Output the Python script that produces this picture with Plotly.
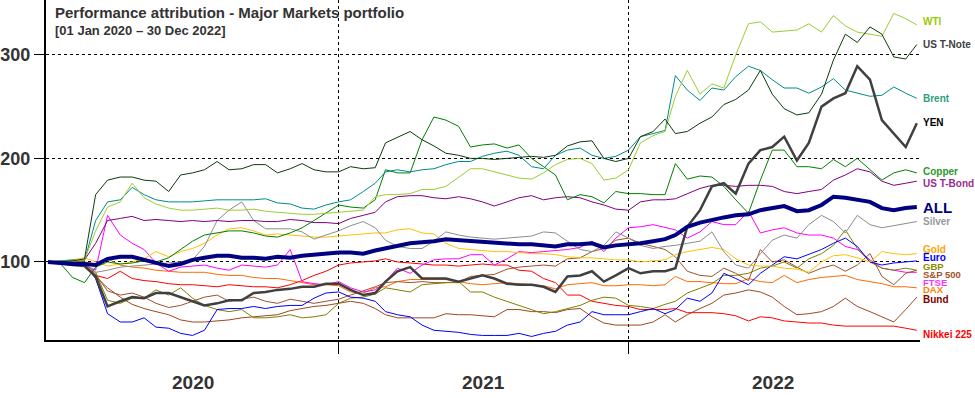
import plotly.graph_objects as go

# half-monthly observation dates (1st and 16th), last one 30 Dec 2022
dates = []
for yr in (2020, 2021, 2022):
    for mo in range(1, 13):
        dates.append(f"{yr}-{mo:02d}-01")
        dates.append(f"{yr}-{mo:02d}-16")
dates.append("2022-12-30")

wti = [100,100,101,102,130,153,158,176,162,156,152,150,150,151,152,150,150,151,149,148,147,146,146,147,148,
       149,150,163,165,165,166,170,170,173,182,190,190,187,184,181,180,186,194,199,200,195,179,181,189,
       215,222,226,260,285,262,272,268,300,330,332,322,323,324,330,322,338,328,322,320,318,340,335,329]
us_tnote = [100,100,101,103,165,179,182,182,179,178,168,184,186,189,197,189,190,194,194,186,190,195,189,187,187,
            192,190,191,215,220,226,218,212,205,203,200,200,199,200,201,202,201,203,212,216,217,200,197,200,
            221,226,238,224,226,234,240,252,257,266,285,262,248,242,244,262,295,320,312,327,320,298,296,310]
brent = [100,101,102,101,140,158,160,172,165,160,158,158,158,159,160,160,160,160,161,157,156,152,151,155,158,
         160,168,176,187,189,187,189,190,194,197,197,202,205,207,203,192,190,203,208,210,203,200,202,208,
         221,224,227,280,266,256,268,266,279,289,285,276,268,268,263,269,277,266,263,260,261,269,263,258]
yen = [100,99,97,96,86,57,62,66,65,70,70,66,62,58,60,63,63,70,71,73,74,76,76,79,79,
       73,68,70,81,91,95,84,84,84,81,84,87,84,79,78,78,76,71,86,87,91,81,87,94,
       89,91,91,94,134,150,173,176,166,195,208,211,221,198,215,250,258,263,289,276,237,224,211,234]
copper = [100,99,85,80,95,100,98,99,101,100,104,112,120,126,128,130,130,128,125,124,128,133,140,147,155,
          153,152,160,189,186,186,218,240,237,231,211,213,214,210,213,200,192,184,160,165,163,157,168,166,
          166,165,165,195,180,183,182,173,160,147,179,208,208,192,192,190,199,192,200,189,179,186,189,186]
us_tbond = [100,100,101,102,118,140,142,144,140,141,140,139,140,139,140,139,140,140,139,139,141,140,138,138,137,
            142,145,148,158,163,164,164,162,161,163,161,158,154,158,162,164,160,162,163,162,158,155,151,150,
            158,160,160,161,166,171,174,174,173,174,174,173,168,166,168,170,179,184,190,187,178,174,176,178]
all_portfolio = [100,99,98,98,97,103,105,105,102,99,96,98,102,104,106,106,104,104,103,105,104,106,107,108,109,
                 109,108,111,113,116,118,119,120,122,121,120,120,119,118,117,117,116,115,117,117,118,114,116,117,
                 118,120,122,126,134,138,141,143,145,146,150,152,154,149,150,155,163,162,160,158,152,150,152,153]
silver = [100,101,100,98,90,92,95,96,97,98,99,100,102,115,140,150,158,140,132,132,132,129,122,126,130,
          135,139,133,121,115,113,113,120,129,126,124,123,122,123,124,125,129,128,120,112,110,116,129,123,
          116,113,115,116,118,120,129,110,97,94,108,121,126,123,136,145,139,128,145,136,133,135,137,139]
gold = [100,101,102,104,100,96,98,100,103,110,105,110,113,118,126,132,133,130,126,127,126,125,124,124,125,
        126,127,128,128,131,132,128,127,118,113,112,111,110,110,109,108,108,107,105,104,104,103,102,102,
        100,101,102,107,110,112,114,112,103,97,96,96,94,93,90,100,106,107,104,100,110,108,107,108]
euro = [100,100,99,97,84,50,42,42,46,37,36,31,29,34,54,55,55,57,55,57,58,58,65,70,71,
        66,65,62,52,49,47,39,34,33,32,30,29,29,29,31,28,31,33,39,42,52,49,49,49,
        52,55,50,54,65,62,70,89,84,78,89,97,105,103,107,112,118,123,115,100,97,99,100,101]
gbp = [100,100,99,98,90,63,60,65,65,73,68,75,65,58,54,52,54,46,46,47,49,46,47,49,60,
       65,66,69,75,73,71,78,79,80,81,71,71,66,62,58,54,50,52,55,58,63,66,65,58,
       57,55,59,62,70,75,79,87,87,89,94,96,100,94,103,108,116,131,113,100,94,92,94,92]
sp500 = [100,100,101,100,88,72,68,70,66,60,56,58,62,66,68,62,64,66,62,60,64,62,60,62,64,
         68,72,76,80,81,80,81,80,80,80,86,87,88,93,95,96,97,96,103,104,110,113,121,123,
         118,115,112,105,91,87,86,94,89,82,112,100,102,95,89,94,97,91,97,108,86,78,89,92]
ftse = [100,100,100,97,92,145,126,118,112,99,91,95,96,97,94,92,97,96,95,97,112,81,79,78,81,
        75,71,73,81,94,89,97,102,103,103,107,107,97,103,110,109,110,111,112,114,120,110,123,133,
        134,136,133,131,123,129,139,136,136,149,128,131,133,128,126,126,123,115,112,102,94,92,90,90]
dax = [100,100,101,100,98,103,97,95,94,92,91,90,90,90,88,87,87,85,84,84,82,80,78,78,77,
       71,70,75,76,81,83,83,83,83,81,79,78,79,80,79,78,77,74,78,79,80,77,77,78,
       78,77,78,86,81,81,80,79,79,84,81,80,87,80,83,85,86,87,83,81,79,76,76,75]
bund = [100,100,100,98,86,75,66,59,55,52,49,44,42,42,43,44,46,47,48,49,53,55,57,58,60,
        62,60,55,49,46,46,46,46,50,49,49,48,47,54,54,52,52,51,54,55,47,41,39,39,
        39,42,49,42,49,55,60,68,70,73,71,66,57,49,50,52,57,65,57,52,47,42,54,66]
nikkei = [100,100,99,98,87,84,91,84,82,81,79,78,78,77,76,78,77,76,76,75,78,82,87,91,97,
          99,100,101,103,100,99,98,97,97,96,97,98,97,97,92,91,84,80,68,68,62,60,58,57,
          54,54,54,55,51,51,51,50,48,43,47,46,43,42,41,41,39,38,38,38,38,38,36,34]

series_names = ["Nikkei 225", "Bund", "DAX", "FTSE", "S&P 500", "GBP", "Euro", "Gold",
                "Silver", "US T-Bond", "Copper", "Brent", "WTI", "US T-Note", "YEN", "ALL"]
series_values = [nikkei, bund, dax, ftse, sp500, gbp, euro, gold,
                 silver, us_tbond, copper, brent, wti, us_tnote, yen, all_portfolio]
year_labels = ["2020", "2021", "2022"]
y_ticks = [100, 200, 300]

for n, v in zip(series_names, series_values):
    assert len(v) == len(dates), (n, len(v))

# styling (not data)
line_style = {
    "Nikkei 225": ("#FF0000", 1), "Bund": ("#A0461E", 1), "DAX": ("#FF6A00", 1),
    "FTSE": ("#FF00FF", 1), "S&P 500": ("#A0522D", 1), "GBP": ("#808000", 1),
    "Euro": ("#0000FF", 1), "Gold": ("#FFC000", 1), "Silver": ("#8C8C8C", 1),
    "US T-Bond": ("#800080", 1), "Copper": ("#008000", 1), "Brent": ("#008B8B", 1),
    "WTI": ("#9ACD32", 1), "US T-Note": ("#0B3B0B", 1), "YEN": ("#404040", 2.5),
    "ALL": ("#000080", 4),
}
label_style = {  # text colour, label y position, font size
    "WTI": ("#99CC00", 332, 10), "US T-Note": ("#404040", 310, 10), "Brent": ("#2E9E7E", 258, 10),
    "YEN": ("#000000", 235, 10), "Copper": ("#2A9A2A", 187, 10), "US T-Bond": ("#9B2D8F", 176, 10),
    "ALL": ("#000080", 153, 15), "Silver": ("#999999", 139, 10), "Gold": ("#FFA500", 112, 10),
    "Euro": ("#0000FF", 104, 10), "GBP": ("#8B8B00", 95.5, 9.5), "S&P 500": ("#A0522D", 88, 9.5),
    "FTSE": ("#FF33FF", 80.5, 9.5), "DAX": ("#FF7F00", 73, 9.5), "Bund": ("#800000", 64, 10),
    "Nikkei 225": ("#FF0000", 29.5, 10),
}

FONT = "Liberation Sans"

fig = go.Figure()
for n, v in zip(series_names, series_values):
    col, w = line_style[n]
    fig.add_trace(go.Scatter(x=dates, y=v, mode="lines", name=n,
                             line=dict(color=col, width=w), showlegend=False))

ann = []
for n in series_names:
    col, ly, fs = label_style[n]
    ann.append(dict(x=dates[-1], y=ly, xref="x", yref="y", text=n, showarrow=False,
                    xanchor="left", yanchor="middle", xshift=4,
                    font=dict(color=col, size=fs, weight="bold", family=FONT)))
for yl in year_labels:
    ann.append(dict(x=f"{yl}-07-02", y=-0.126, xref="x", yref="paper", text=yl, showarrow=False,
                    xanchor="center", yanchor="middle",
                    font=dict(color="#333333", size=19, weight="bold", family=FONT)))
ann.append(dict(x=0.008, y=0.962, xref="paper", yref="paper", xanchor="left", yanchor="middle",
                text="Performance attribution - Major Markets portfolio", showarrow=False,
                font=dict(color="#333333", size=15, weight="bold", family=FONT)))
ann.append(dict(x=0.008, y=0.909, xref="paper", yref="paper", xanchor="left", yanchor="middle",
                text="[01 Jan 2020 \u2013 30 Dec 2022]", showarrow=False,
                font=dict(color="#333333", size=13, weight="bold", family=FONT)))

fig.update_layout(
    width=975, height=398,
    margin=dict(l=46, r=55, t=0, b=58),
    paper_bgcolor="white", plot_bgcolor="white",
    annotations=ann,
    hovermode=False,
    xaxis=dict(type="date", range=["2019-12-29 12:00", "2023-01-03"],
               tickvals=["2021-01-01", "2022-01-01"], ticktext=["", ""],
               ticks="outside", ticklen=12, tickcolor="black", tickwidth=1,
               showline=True, linecolor="black", linewidth=2,
               showgrid=True, gridcolor="black", griddash="dot", gridwidth=1,
               zeroline=False, automargin=False),
    yaxis=dict(range=[24.6, 353], tickvals=y_ticks, ticktext=[str(t) for t in y_ticks],
               ticks="outside", ticklen=10, tickcolor="black", tickwidth=1,
               tickfont=dict(color="#333333", size=18, weight="bold", family=FONT),
               showline=True, linecolor="black", linewidth=2,
               showgrid=True, gridcolor="black", griddash="dot", gridwidth=1,
               zeroline=False, automargin=False),
)

fig.write_html("out.html", config={"displayModeBar": False},
               post_script="document.body.style.margin='0';")
